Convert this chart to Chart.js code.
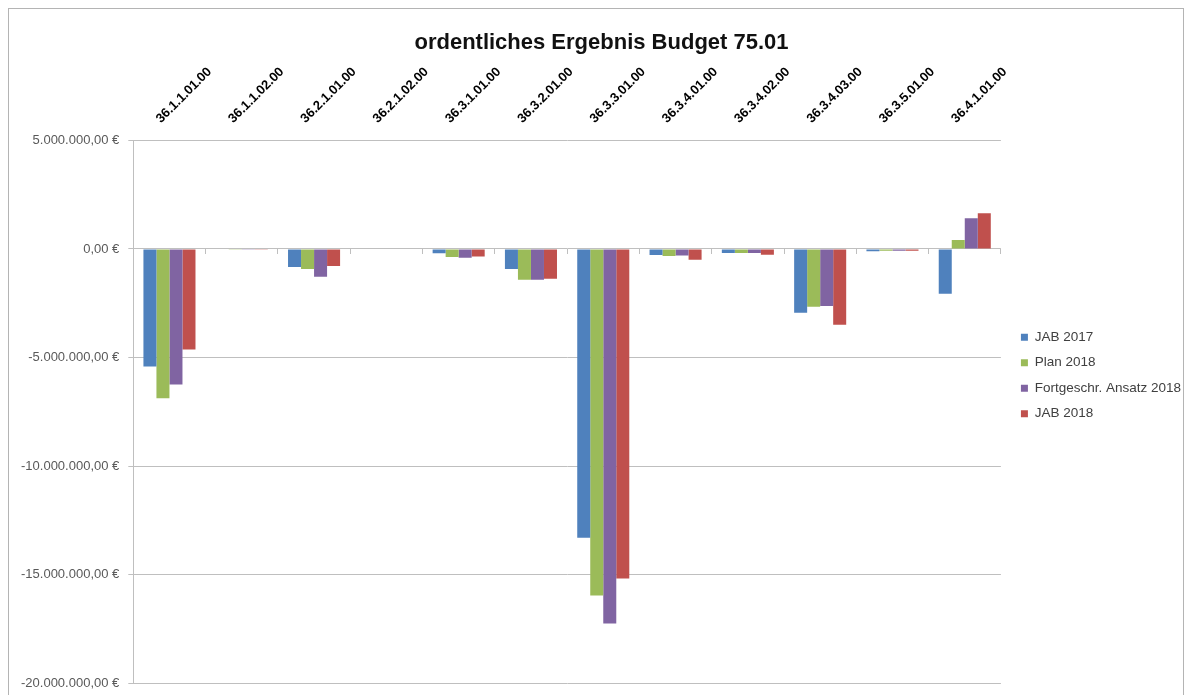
<!DOCTYPE html>
<html>
<head>
<meta charset="utf-8">
<title>ordentliches Ergebnis Budget 75.01</title>
<script src="https://cdn.jsdelivr.net/npm/chart.js@4.4.1/dist/chart.umd.min.js"></script>
<style>
  html, body { margin: 0; padding: 0; background: #fff; overflow: hidden; }
  #frame { position: absolute; left: 8px; top: 8px; width: 1176px; height: 700px; border: 1px solid #b4b4b4; box-sizing: border-box; }
  /* a little taller than the window: the bottom edge is cut off like in the original */
  #wrap { position: absolute; left: 0; top: 0; width: 1191px; height: 700px; }
</style>
</head>
<body>
<div id="frame"></div>
<div id="wrap"><canvas id="chart"></canvas></div>
<script>
/* DATA */
const categories = [
  "36.1.1.01.00", "36.1.1.02.00", "36.2.1.01.00", "36.2.1.02.00",
  "36.3.1.01.00", "36.3.2.01.00", "36.3.3.01.00", "36.3.4.01.00",
  "36.3.4.02.00", "36.3.4.03.00", "36.3.5.01.00", "36.4.1.01.00"
];
const seriesNames = ["JAB 2017", "Plan 2018", "Fortgeschr. Ansatz 2018", "JAB 2018"];
const jab2017 = [-5410000, -20000, -830000, 0, -200000, -920000, -13300000, -280000, -180000, -2940000, -100000, -2060000];
const plan2018 = [-6880000, -10000, -920000, 0, -370000, -1420000, -15960000, -320000, -180000, -2660000, -80000, 410000];
const ansatz2018 = [-6240000, -30000, -1280000, 0, -400000, -1420000, -17250000, -300000, -180000, -2620000, -80000, 1420000];
const jab2018 = [-4630000, -40000, -780000, 0, -350000, -1370000, -15180000, -500000, -270000, -3490000, -80000, 1650000];
const yMin = -20000000, yMax = 5000000, yStep = 5000000;

const colors = ["#4F81BD", "#9BBB59", "#8064A2", "#C0504D"];
const FONT = "'Liberation Sans', Arial, sans-serif";
const GRID = "#bfbfbf";

// German currency format: 5.000.000,00 €
function euro(v) {
  const neg = v < 0;
  const s = Math.abs(Math.round(v)).toString().replace(/\B(?=(\d{3})+(?!\d))/g, ".");
  return (neg ? "-" : "") + s + ",00 €";
}

const datasets = [jab2017, plan2018, ansatz2018, jab2018].map((d, i) => ({
  label: seriesNames[i],
  data: d,
  backgroundColor: colors[i],
  borderWidth: 0,
  categoryPercentage: 0.72,
  barPercentage: 1.0
}));

new Chart(document.getElementById("chart"), {
  type: "bar",
  data: { labels: categories, datasets },
  options: {
    responsive: true,
    maintainAspectRatio: false,
    animation: false,
    layout: { padding: { left: 12, right: 0, top: 0, bottom: 0 } },
    plugins: {
      title: {
        display: true,
        text: "ordentliches Ergebnis Budget 75.01",
        color: "#111",
        font: { family: FONT, size: 22, weight: "bold", lineHeight: 0.65 },
        padding: { top: 36, bottom: 8 }
      },
      legend: {
        position: "right",
        align: "center",
        // empty title just pushes the entries a bit lower, as in the original
        title: { display: true, text: "", font: { size: 10, lineHeight: 1.2 }, padding: { top: 39, bottom: 0 } },
        labels: {
          color: "#404040",
          font: { family: FONT, size: 13.5 },
          boxWidth: 7,
          boxHeight: 7,
          padding: 12
        }
      },
      tooltip: { enabled: false }
    },
    scales: {
      x: {
        position: "top",
        offset: true,
        grid: { display: false },
        border: { display: false },
        ticks: {
          color: "#000",
          font: { family: FONT, size: 13, weight: "bold" },
          minRotation: 45,
          maxRotation: 45,
          autoSkip: false,
          padding: 6
        }
      },
      // tick marks along the zero line
      xZero: {
        axis: "x",
        type: "category",
        position: { y: 0 },
        offset: true,
        grid: { display: true, offset: true, drawOnChartArea: false, drawTicks: true, tickLength: 5, color: GRID },
        border: { display: false },
        ticks: { display: false }
      },
      y: {
        min: yMin,
        max: yMax,
        grid: { color: GRID, tickLength: 5 },
        border: { display: true, color: GRID },
        ticks: {
          stepSize: yStep,
          color: "#595959",
          font: { family: FONT, size: 13 },
          padding: 9,
          callback: v => euro(v)
        }
      },
      // empty spacer between plot and legend
      yPad: {
        position: "right",
        grid: { display: false },
        border: { display: false },
        ticks: { display: false },
        afterFit: s => { s.width = 8; }
      }
    }
  }
});
</script>
</body>
</html>
